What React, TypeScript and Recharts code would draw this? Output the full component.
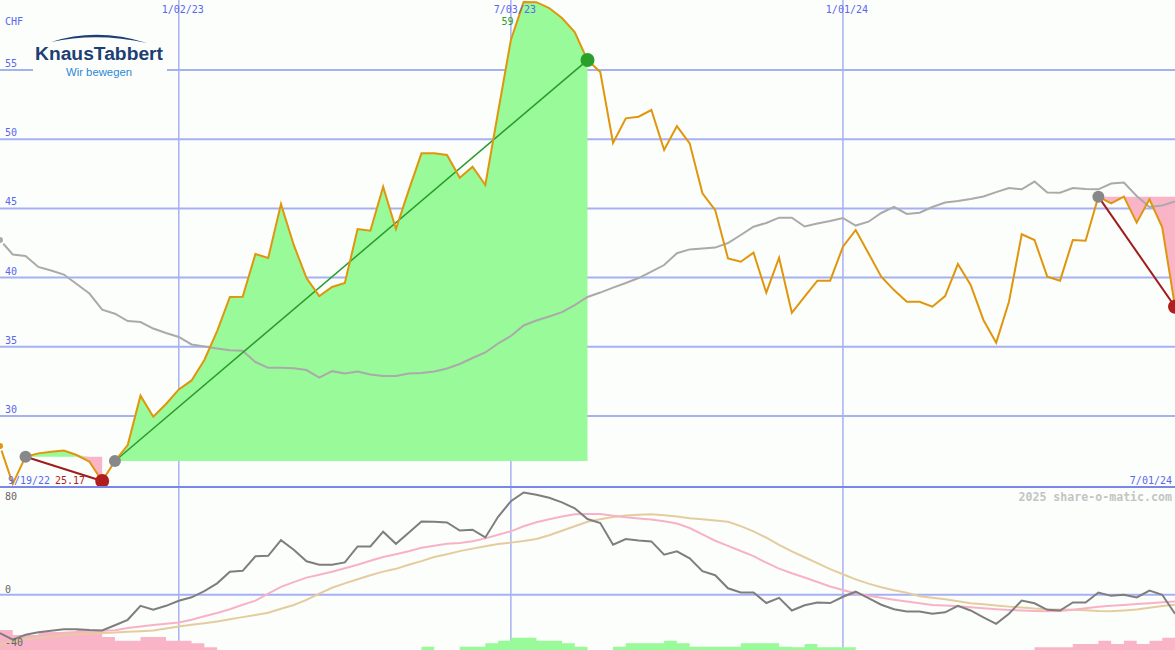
import { ComposedChart, Area, Line, XAxis, YAxis, CartesianGrid, ReferenceDot } from 'recharts'

const WIDTH = 1175
const TOP_H = 487
const BOTTOM_H = 163
const BG = '#fcfefc'
const GRID = '#a6b1f2'
const BLUE = '#5a66ee'
const MONO = '"DejaVu Sans Mono", monospace'

// weekly closes (CHF), 9/2022 .. 7/2024
const closes = [
  27.83, 25.1, 27.06, 27.3, 27.42, 27.5, 27.18, 26.7, 25.3, 26.75,
  27.9, 31.47, 29.95, 30.87, 31.92, 32.57, 34.05, 36.14, 38.6, 38.62,
  41.71, 41.42, 45.32, 42.36, 39.97, 38.67, 39.32, 39.61, 43.51, 43.39,
  46.57, 43.51, 46.3, 48.98, 48.98, 48.86, 47.22, 48.01, 46.69, 51.97,
  57.17, 59.91, 59.9, 59.48, 58.76, 57.75, 55.72, 54.86, 49.73, 51.51,
  51.63, 52.11, 49.22, 50.95, 49.7, 46.09, 44.88, 41.39, 41.15, 41.8,
  38.91, 41.44, 37.46, 38.62, 39.78, 39.78, 42.23, 43.44, 41.76, 40.07,
  39.1, 38.26, 38.26, 37.9, 38.67, 40.98, 39.47, 36.94, 35.3, 38.26,
  43.13, 42.72, 40.07, 39.78, 42.72, 42.67, 45.85, 45.37, 45.85, 43.97,
  45.66, 43.63, 37.9,
]

// long moving average
const avgLine = [
  42.72, 41.67, 41.56, 40.77, 40.51, 40.22, 39.54, 38.85, 37.69, 37.39,
  36.86, 36.79, 36.32, 36.0, 35.71, 35.17, 35.02, 34.88, 34.75, 34.71,
  33.9, 33.48, 33.48, 33.45, 33.32, 32.78, 33.24, 33.07, 33.21, 33.0,
  32.89, 32.89, 33.07, 33.11, 33.21, 33.43, 33.76, 34.19, 34.59, 35.24,
  35.78, 36.54, 36.9, 37.19, 37.51, 38.02, 38.6, 38.92, 39.28, 39.61,
  39.97, 40.44, 40.91, 41.76, 42.04, 42.1, 42.17, 42.5, 43.08, 43.68,
  43.95, 44.33, 44.33, 43.69, 43.91, 44.09, 44.31, 43.76, 44.04, 44.67,
  45.12, 44.6, 44.69, 45.1, 45.43, 45.53, 45.68, 45.86, 46.18, 46.47,
  46.38, 46.94, 46.15, 46.13, 46.47, 46.4, 46.38, 46.8, 46.87, 45.9,
  45.1, 45.21, 45.5,
]

// lower panel
const momentum = [
  -28.8, -33.8, -30.1, -28.2, -27.1, -25.9, -25.9, -26.5, -26.8, -22.9,
  -18.8, -8.3, -11.3, -8.3, -4.5, -1.9, 2.8, 8.6, 17.3, 18.0,
  28.9, 29.3, 41.0, 33.8, 25.2, 22.6, 22.6, 24.3, 36.3, 36.3,
  47.4, 38.3, 46.6, 55.1, 54.9, 54.4, 48.3, 48.9, 43.1, 58.6,
  70.3, 76.9, 75.2, 72.9, 69.4, 65.0, 56.9, 53.9, 37.6, 41.9,
  40.8, 40.1, 30.1, 32.6, 27.4, 17.7, 14.7, 4.9, 1.7, 1.7,
  -6.2, -2.3, -11.8, -7.9, -5.8, -6.2, -1.5, 2.3, -2.5, -7.5,
  -10.9, -12.6, -12.6, -14.3, -13.2, -8.3, -11.8, -16.9, -21.8, -14.3,
  -4.3, -6.4, -11.3, -11.8, -5.8, -5.8, 1.7, -0.8, 0, -2.0,
  3.2, 0, -14.3,
]

const fastSignal = [
  -34.6, -33.1, -32.0, -30.8, -29.7, -28.6, -28.0, -27.4, -27.1, -26.6,
  -25.0, -23.8, -22.7, -21.8, -20.9, -18.8, -16.2, -13.7, -10.9, -7.5,
  -4.4, 0.9, 5.9, 9.5, 12.9, 15.0, 17.3, 19.9, 22.6, 25.6,
  28.4, 30.5, 32.7, 35.3, 36.8, 38.3, 38.9, 40.2, 42.4, 45.1,
  47.7, 51.5, 54.5, 56.8, 58.8, 60.5, 60.7, 60.7, 59.4, 58.3,
  57.4, 56.5, 55.3, 53.5, 50.2, 45.4, 40.6, 36.7, 32.9, 29.0,
  24.1, 19.7, 16.2, 13.0, 9.6, 6.2, 3.6, 0.9, -0.8, -2.3,
  -3.7, -5.1, -6.4, -7.6, -8.1, -8.7, -9.4, -10.2, -10.9, -11.4,
  -11.8, -12.1, -12.4, -12.2, -11.3, -10.2, -9.0, -8.3, -7.6, -7.0,
  -6.3, -5.6, -5.0,
]

const slowSignal = [
  -37.6, -35.3, -33.5, -32.3, -31.3, -30.5, -29.6, -29.2, -28.7, -28.4,
  -27.8, -27.4, -26.8, -25.3, -23.9, -22.6, -21.4, -20.0, -18.4, -16.8,
  -15.2, -13.5, -10.5, -7.7, -3.8, 0.8, 5.3, 8.6, 11.7, 14.7,
  17.4, 19.5, 22.6, 25.3, 28.4, 30.5, 32.8, 34.7, 36.5, 38.2,
  39.2, 40.4, 41.9, 44.7, 48.1, 51.5, 54.9, 56.8, 58.4, 59.5,
  60.2, 60.6, 59.8, 58.8, 57.6, 56.8, 55.9, 54.9, 51.6, 47.7,
  42.9, 37.5, 32.6, 28.2, 23.8, 19.3, 15.4, 11.6, 8.4, 5.6,
  3.4, 1.6, -1.1, -2.3, -3.4, -4.9, -6.4, -7.1, -8.0, -8.9,
  -9.6, -10.4, -10.9, -11.0, -11.3, -11.7, -12.2, -12.4, -11.8, -11.1,
  -9.8, -8.5, -7.5,
]

// signed histogram, negative = pink, positive = green
const histogram = [
  -15.0, -11.3, -11.3, -13.5, -13.5, -13.5, -15.0, -15.0, -9.8, -7.0,
  -7.0, -9.8, -9.8, -7.0, -7.0, -5.0, -2.0, 0, 0, 0,
  0, 0, 0, 0, 0, 0, 0, 0, 0, 0,
  0, 0, 0, 2.5, 0, 0, 2.5, 2.5, 5.0, 7.0,
  9.2, 9.2, 7.0, 7.0, 5.0, 2.5, 0, 0, 2.5, 5.0,
  5.0, 5.0, 7.0, 5.0, 2.5, 2.5, 2.5, 2.5, 5.0, 5.0,
  5.0, 2.5, 2.0, 4.5, 2.0, 2.0, 2.0, 0, 0, 0,
  0, 0, 0, 0, 0, 0, 0, 0, 0, 0,
  0, -2.0, -2.0, -2.0, -4.5, -4.5, -7.0, -4.5, -7.0, -4.5,
  -7.0, -9.2, -9.2,
]

const dateTicks = [14, 40, 66]
const dateLabels = ['1/02/23', '7/03/23', '1/01/24']
const priceTicks = [30, 35, 40, 45, 50, 55]
const oscTicks = [80, 0, -40]

const riseSwing = [9, 46]
const fallSwings = [[2, 8], [86, 92]]
const grayDots = [2, 9, 86]
const redDots = [8, 92]
const greenDots = [46]
const peakIndex = 41
const peakLabel = '59.9'
const lowLabel = '25.17'
const startLabel = '9/19/22'
const endLabel = '7/01/24'

const PRICE_DOMAIN = [24.87, 60.06]
const OSC_DOMAIN = [-41.5, 81]
const LAST = closes.length - 1

const within = (i: number, sw: number[]) => i >= sw[0] && i <= sw[1]

const priceRows = closes.map((c, i) => {
  const row: any = { i, close: c, avg: avgLine[i] }
  if (within(i, riseSwing)) row.rise = [closes[riseSwing[0]], c]
  if (i === riseSwing[0] || i === riseSwing[1]) row.riseTrend = c
  fallSwings.forEach((sw, k) => {
    if (within(i, sw)) {
      const base = closes[sw[0]]
      row.fallUp = [base, Math.max(base, c)]
      row.fallDown = [Math.min(base, c), base]
    }
    if (i === sw[0] || i === sw[1]) row['fallTrend' + k] = c
  })
  return row
})

const oscRows = momentum.map((m, i) => ({
  i,
  momentum: m,
  fast: fastSignal[i],
  slow: slowSignal[i],
  histNeg: [OSC_DOMAIN[0], OSC_DOMAIN[0] + Math.max(0, -histogram[i])],
  histPos: [OSC_DOMAIN[0], OSC_DOMAIN[0] + Math.max(0, histogram[i])],
}))

const DateTick = (p: any) => (
  <text x={p.x + 4} y={13} textAnchor="middle" fill={BLUE} fontSize={10} fontFamily={MONO}>
    {dateLabels[dateTicks.indexOf(p.payload.value)]}
  </text>
)

const PriceTick = (p: any) => (
  <text x={5} y={p.y - 3} fill={BLUE} fontSize={10} fontFamily={MONO}>{p.payload.value}</text>
)

const OscTick = (p: any) => (
  <text x={5} y={p.payload.value === 80 ? p.y + 12 : p.y - 2} fill="#666" fontSize={10} fontFamily={MONO}>
    {p.payload.value}
  </text>
)

const PeakLabel = (p: any) => (
  <text x={p.viewBox.x - 10} y={p.viewBox.y + 23} textAnchor="middle" fill="#2a9a2a" fontSize={10} fontFamily={MONO}>
    {peakLabel}
  </text>
)

export default function App() {
  return (
    <div style={{ position: 'absolute', left: 0, top: 0, width: WIDTH, height: 650, background: BG, overflow: 'hidden' }}>
      <div style={{ position: 'absolute', left: 0, top: 0 }}>
        <ComposedChart width={WIDTH} height={TOP_H} data={priceRows} margin={{ top: 0, right: 0, bottom: 0, left: 0 }}>
          <CartesianGrid vertical={false} horizontalValues={priceTicks} stroke={GRID} strokeWidth={2} />
          <CartesianGrid horizontal={false} verticalValues={dateTicks} stroke={GRID} strokeWidth={1.5} />
          {/* date labels sit under the filled swing, like the original */}
          <XAxis dataKey="i" type="number" domain={[0, LAST]} orientation="top" mirror zIndex={-50}
            ticks={dateTicks} interval={0} axisLine={false} tickLine={false} tick={DateTick} />
          <YAxis type="number" domain={PRICE_DOMAIN} allowDataOverflow mirror
            ticks={priceTicks} interval={0} axisLine={false} tickLine={false} tick={PriceTick} />
          <ReferenceDot x={peakIndex} y={closes[peakIndex]} r={0} stroke="none" zIndex={-40} label={PeakLabel} />
          <Area dataKey="rise" type="linear" fill="#98fa98" fillOpacity={1} stroke="none" isAnimationActive={false} />
          <Area dataKey="fallUp" type="linear" fill="#98fa98" fillOpacity={1} stroke="none" isAnimationActive={false} />
          <Area dataKey="fallDown" type="linear" fill="#fab4c8" fillOpacity={1} stroke="none" isAnimationActive={false} />
          <Line dataKey="avg" type="linear" stroke="#aaaaaa" strokeWidth={2} dot={false} isAnimationActive={false} />
          <Line dataKey="riseTrend" type="linear" stroke="#2a9a2a" strokeWidth={1.5} dot={false} connectNulls isAnimationActive={false} />
          <Line dataKey="fallTrend0" type="linear" stroke="#a01c1c" strokeWidth={2} dot={false} connectNulls isAnimationActive={false} />
          <Line dataKey="fallTrend1" type="linear" stroke="#a01c1c" strokeWidth={2} dot={false} connectNulls isAnimationActive={false} />
          <Line dataKey="close" type="linear" stroke="#e0960c" strokeWidth={2} dot={false} isAnimationActive={false} />
          {grayDots.map(i => <ReferenceDot key={'g' + i} x={i} y={closes[i]} r={6} fill="#888888" stroke="none" />)}
          {redDots.map(i => <ReferenceDot key={'r' + i} x={i} y={closes[i]} r={7} fill="#b01e1e" stroke="none" />)}
          {greenDots.map(i => <ReferenceDot key={'n' + i} x={i} y={closes[i]} r={7} fill="#2aa02a" stroke="none" />)}
        </ComposedChart>
      </div>

      <div style={{ position: 'absolute', left: 0, top: TOP_H }}>
        <ComposedChart width={WIDTH} height={BOTTOM_H} data={oscRows} margin={{ top: 0, right: 0, bottom: 0, left: 0 }}>
          <CartesianGrid vertical={false} horizontalValues={[0]} stroke={GRID} strokeWidth={2} />
          <CartesianGrid horizontal={false} verticalValues={dateTicks} stroke={GRID} strokeWidth={1.5} />
          <XAxis dataKey="i" type="number" domain={[0, LAST]} ticks={dateTicks} hide />
          <YAxis type="number" domain={OSC_DOMAIN} allowDataOverflow mirror
            ticks={oscTicks} interval={0} axisLine={false} tickLine={false} tick={OscTick} />
          <Area dataKey="histNeg" type="stepAfter" fill="#fab4c8" fillOpacity={1} stroke="none" isAnimationActive={false} />
          <Area dataKey="histPos" type="stepAfter" fill="#98fa98" fillOpacity={1} stroke="none" isAnimationActive={false} />
          <Line dataKey="slow" type="linear" stroke="#e4cc9e" strokeWidth={2} dot={false} isAnimationActive={false} />
          <Line dataKey="fast" type="linear" stroke="#f8b2c8" strokeWidth={2} dot={false} isAnimationActive={false} />
          <Line dataKey="momentum" type="linear" stroke="#7e7e7e" strokeWidth={2} dot={false} isAnimationActive={false} />
        </ComposedChart>
      </div>

      <svg width={WIDTH} height={650} style={{ position: 'absolute', left: 0, top: 0, pointerEvents: 'none' }}>
        <line x1={0} x2={WIDTH} y1={TOP_H} y2={TOP_H} stroke="#7a86ea" strokeWidth={2} />
        <text x={5} y={25} fill={BLUE} fontSize={10} fontFamily={MONO}>CHF</text>
        <text x={8} y={484} fill={BLUE} fontSize={10} fontFamily={MONO}>{startLabel}</text>
        <text x={55} y={484} fill="#b01e1e" fontSize={10} fontFamily={MONO}>{lowLabel}</text>
        <text x={1172} y={484} textAnchor="end" fill={BLUE} fontSize={10} fontFamily={MONO}>{endLabel}</text>
        <text x={1172} y={501} textAnchor="end" fill="#c4c4c4" fontSize={11.6} fontWeight={700} fontFamily={MONO}>
          2025 share-o-matic.com
        </text>
        <g>
          <rect x={33} y={33} width={134} height={47} fill={BG} />
          <path d="M51 42 Q97 27 147 43 Q97 32 51 42 Z" fill="#1c3f74" />
          <text x={35} y={60} fill="#1c3f74" fontSize={18} fontWeight={700}
            fontFamily='"Liberation Sans", Arial, sans-serif' textLength={128} lengthAdjust="spacingAndGlyphs">
            KnausTabbert
          </text>
          <text x={66} y={76} fill="#2c88d4" fontSize={11}
            fontFamily='"Liberation Sans", Arial, sans-serif' textLength={66} lengthAdjust="spacingAndGlyphs">
            Wir bewegen
          </text>
        </g>
      </svg>
    </div>
  )
}
